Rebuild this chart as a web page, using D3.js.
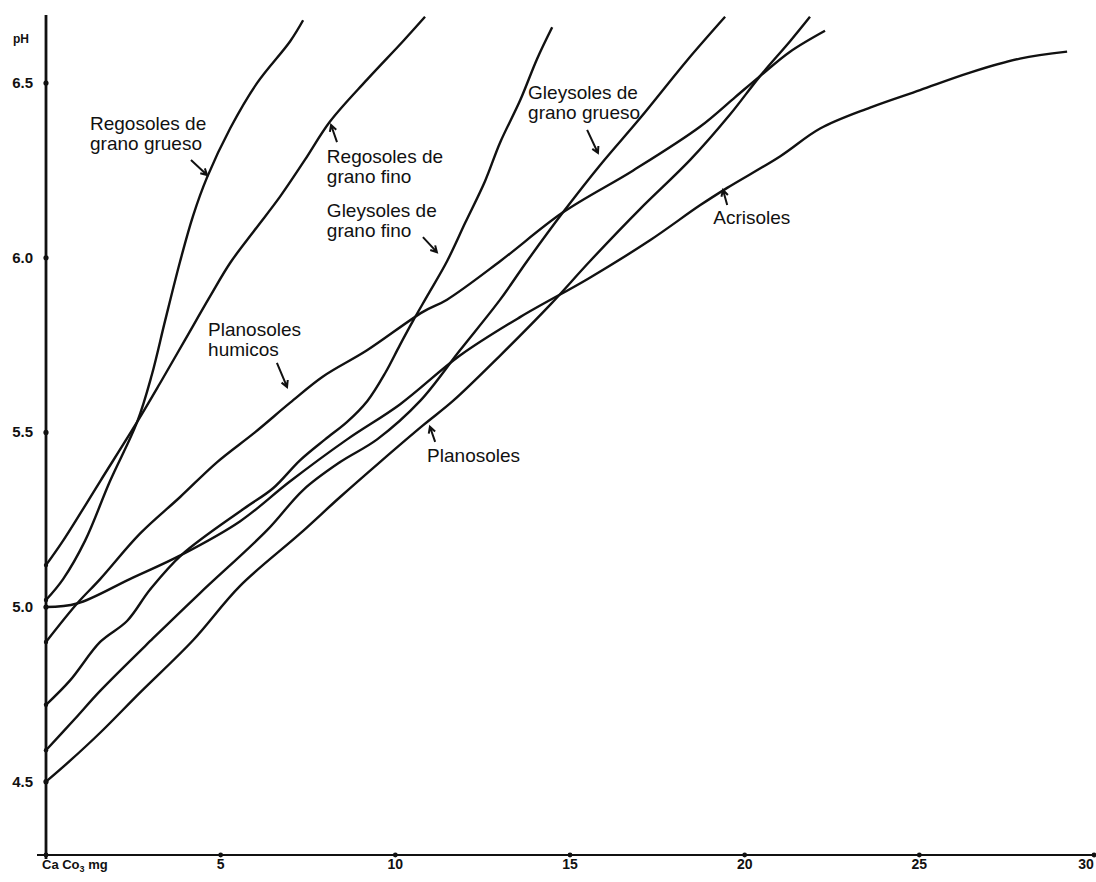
<!DOCTYPE html>
<html lang="es">
<head>
<meta charset="UTF-8">
<title>pH vs Ca Co3</title>
<style>
  body { margin: 0; background: #fff; }
  svg { display: block; }
  .lbl { font-family: "Liberation Sans", Arial, sans-serif; font-size: 19px; fill: #111; }
  .tick { font-family: "Liberation Sans", Arial, sans-serif; font-size: 15px; font-weight: bold; fill: #111; }
</style>
</head>
<body>
<svg id="chart" width="1096" height="882"></svg>
<script src="https://d3js.org/d3.v7.min.js"></script>
<script>
// curves: [Ca Co3 mg, pH]
var regosolesGrueso = [[0,5.02],[0.49,5.08],[1.12,5.19],[1.83,5.36],[2.61,5.53],[3.03,5.665],[3.41,5.82],
  [3.84,5.99],[4.21,6.12],[4.61,6.23],[5.27,6.37],[6.04,6.50],[6.99,6.62],[7.36,6.68]];
var regosolesFino = [[0,5.12],[0.49,5.19],[1.55,5.36],[2.61,5.53],[3.26,5.64],[3.98,5.765],[4.70,5.89],
  [5.27,5.985],[5.98,6.08],[6.70,6.175],[7.41,6.28],[8.13,6.39],[9.19,6.51],[10.22,6.62],[10.85,6.69]];
var gleysolesFino = [[0,4.72],[0.69,4.79],[1.55,4.90],[2.32,4.96],[2.98,5.05],[3.89,5.15],[5.64,5.28],
  [6.50,5.34],[7.27,5.42],[7.99,5.48],[8.62,5.53],[9.2,5.59],[9.71,5.67],[10.13,5.75],[10.51,5.82],
  [10.91,5.89],[11.48,5.99],[12.0,6.10],[12.57,6.22],[13.0,6.33],[13.57,6.45],[14.06,6.57],[14.49,6.66]];
var acrisoles = [[0,5.0],[0.89,5.01],[2.40,5.08],[3.89,5.15],[5.55,5.245],[6.99,5.36],[8.62,5.48],
  [10.13,5.58],[11.85,5.72],[13.57,5.83],[15.52,5.94],[17.29,6.05],[18.72,6.15],[19.5,6.20],[21.01,6.29],
  [22.16,6.37],[23.59,6.43],[25.02,6.48],[26.45,6.53],[27.88,6.57],[29.23,6.59]];
var planosolesHumicos = [[0,4.90],[0.89,5.01],[1.55,5.08],[2.69,5.21],[3.84,5.315],[4.90,5.415],[5.98,5.50],
  [6.99,5.585],[7.93,5.66],[9.19,5.735],[10.79,5.845],[11.48,5.88],[13.0,5.99],[14.80,6.13],[16.81,6.25],
  [18.72,6.375],[19.73,6.46],[20.44,6.52],[21.30,6.59],[22.30,6.65]];
var gleysolesGrueso = [[0,4.59],[0.83,4.68],[1.55,4.76],[3.06,4.91],[4.41,5.04],[6.33,5.22],[7.36,5.335],
  [8.42,5.415],[9.48,5.48],[10.71,5.59],[11.85,5.735],[13.0,5.88],[13.77,5.99],[14.80,6.13],[15.86,6.265],
  [17.01,6.40],[18.35,6.565],[19.44,6.69]];
var planosoles = [[0,4.5],[0.69,4.56],[1.55,4.64],[2.69,4.755],[4.21,4.905],[5.55,5.06],[7.27,5.21],
  [8.42,5.315],[9.56,5.415],[10.79,5.52],[11.65,5.59],[13.0,5.72],[14.43,5.865],[15.57,5.99],[17.01,6.14],
  [18.44,6.28],[19.58,6.41],[20.44,6.52],[21.30,6.62],[21.87,6.69]];

var xTicks = [5, 10, 15, 20, 25, 30];
var yTicks = [4.5, 5.0, 5.5, 6.0, 6.5];

// labels: text lines, anchor [x, pH], arrow tail -> head
var labels = [
  { lines: ["Regosoles de", "grano grueso"], at: [1.26, 6.366], arrow: [[4.15, 6.280], [4.61, 6.237]] },
  { lines: ["Regosoles de", "grano fino"], at: [8.04, 6.271], arrow: [[8.33, 6.331], [8.16, 6.380]] },
  { lines: ["Gleysoles de", "grano fino"], at: [8.04, 6.117], arrow: [[10.79, 6.059], [11.19, 6.016]] },
  { lines: ["Gleysoles de", "grano grueso"], at: [13.80, 6.454], arrow: [[15.49, 6.366], [15.80, 6.300]] },
  { lines: ["Acrisoles"], at: [19.10, 6.097], arrow: [[19.50, 6.151], [19.38, 6.194]] },
  { lines: ["Planosoles", "humicos"], at: [4.64, 5.776], arrow: [[6.61, 5.699], [6.90, 5.630]] },
  { lines: ["Planosoles"], at: [10.91, 5.416], arrow: [[11.14, 5.473], [10.99, 5.516]] }
];

var svg = d3.select("#chart");

var x = d3.scaleLinear().domain([0, 30]).range([46, 1094]);
var y = d3.scaleLinear().domain([4.29, 6.695]).range([855, 15]);

var line = d3.line()
  .x(function(d) { return x(d[0]); })
  .y(function(d) { return y(d[1]); })
  .curve(d3.curveCatmullRom.alpha(0.5));

var curves = [regosolesGrueso, regosolesFino, gleysolesFino, acrisoles, planosolesHumicos, gleysolesGrueso, planosoles];

svg.append("g").selectAll("path")
  .data(curves)
  .enter().append("path")
  .attr("d", line)
  .attr("fill", "none")
  .attr("stroke", "#111")
  .attr("stroke-width", 2.4)
  .attr("stroke-linejoin", "round");

// axes
svg.append("line")
  .attr("x1", x(0)).attr("x2", x(0))
  .attr("y1", y(6.695)).attr("y2", y(4.29) + 4)
  .attr("stroke", "#111").attr("stroke-width", 2.8);
svg.append("line")
  .attr("x1", x(0) - 9).attr("x2", 1096)
  .attr("y1", y(4.29)).attr("y2", y(4.29))
  .attr("stroke", "#111").attr("stroke-width", 2.2);

svg.append("g").selectAll("circle")
  .data(yTicks)
  .enter().append("circle")
  .attr("cx", x(0)).attr("cy", function(d) { return y(d); })
  .attr("r", 2.6).attr("fill", "#111");

svg.append("g").selectAll("circle")
  .data([0].concat(xTicks))
  .enter().append("circle")
  .attr("cx", function(d) { return x(d); }).attr("cy", y(4.29))
  .attr("r", 2.4).attr("fill", "#111");

// start dots of the curves
svg.append("g").selectAll("circle")
  .data(curves)
  .enter().append("circle")
  .attr("cx", x(0)).attr("cy", function(d) { return y(d[0][1]); })
  .attr("r", 2.2).attr("fill", "#111");

svg.append("g").selectAll("text")
  .data(yTicks)
  .enter().append("text")
  .attr("class", "tick")
  .attr("x", 33).attr("y", function(d) { return y(d) + 5; })
  .attr("text-anchor", "end")
  .text(function(d) { return d.toFixed(1); });

svg.append("text")
  .attr("class", "tick")
  .attr("x", 13).attr("y", 43)
  .style("font-size", "12px")
  .text("pH");

svg.append("g").selectAll("text")
  .data(xTicks)
  .enter().append("text")
  .attr("class", "tick")
  .attr("x", function(d) { return d === 30 ? x(d) - 8 : x(d); })
  .attr("y", 869)
  .attr("text-anchor", "middle")
  .style("font-size", "14px")
  .text(function(d) { return d; });

var xl = svg.append("text")
  .attr("class", "tick")
  .attr("x", 42).attr("y", 869)
  .style("font-size", "13px");
xl.append("tspan").text("Ca Co");
xl.append("tspan").attr("dy", 3).style("font-size", "9px").text("3");
xl.append("tspan").attr("dy", -3).text(" mg");

// labels and arrows
var g = svg.append("g");
labels.forEach(function(l) {
  var t = g.append("text").attr("class", "lbl");
  l.lines.forEach(function(s, i) {
    t.append("tspan")
      .attr("x", x(l.at[0]))
      .attr("y", y(l.at[1]) + i * 20)
      .text(s);
  });
  var x1 = x(l.arrow[0][0]), y1 = y(l.arrow[0][1]);
  var x2 = x(l.arrow[1][0]), y2 = y(l.arrow[1][1]);
  var a = Math.atan2(y2 - y1, x2 - x1), h = 7;
  var p = "M" + x1 + "," + y1 + "L" + x2 + "," + y2 +
    "M" + (x2 - h * Math.cos(a - 0.5)) + "," + (y2 - h * Math.sin(a - 0.5)) +
    "L" + x2 + "," + y2 +
    "L" + (x2 - h * Math.cos(a + 0.5)) + "," + (y2 - h * Math.sin(a + 0.5));
  g.append("path").attr("d", p)
    .attr("fill", "none").attr("stroke", "#111").attr("stroke-width", 2);
});
</script>
</body>
</html>
